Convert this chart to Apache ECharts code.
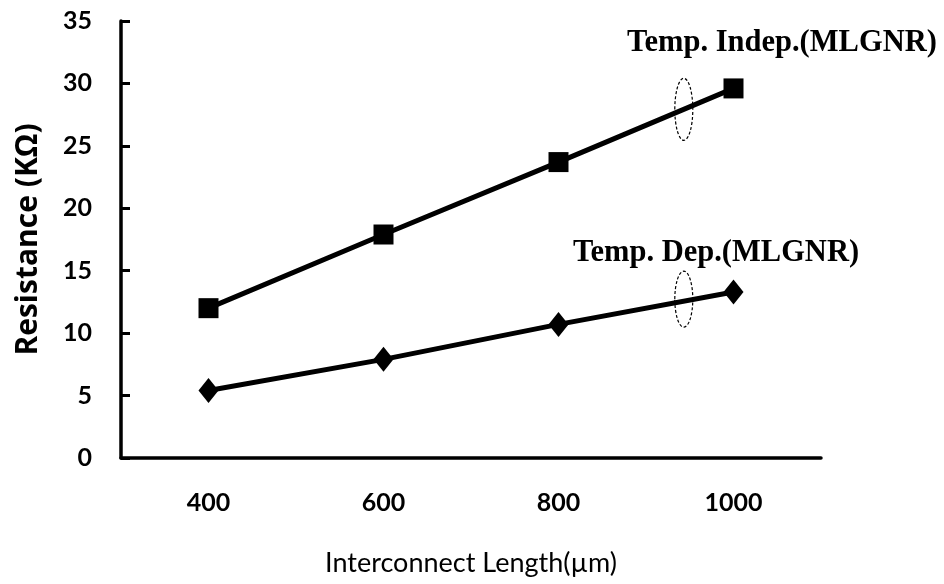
<!DOCTYPE html>
<html>
<head>
<meta charset="utf-8">
<script src="https://cdn.jsdelivr.net/npm/echarts@6/dist/echarts.min.js"></script>
<style>
  html, body { margin: 0; padding: 0; background: #fff; }
  #chart { width: 944px; height: 584px; }
</style>
</head>
<body>
<div id="chart"></div>
<script>
// Interconnect lengths (µm)
const lengths = ['400', '600', '800', '1000'];
// Resistance (KΩ), temperature-independent MLGNR model
const tempIndep = [12.0, 17.9, 23.7, 29.6];
// Resistance (KΩ), temperature-dependent MLGNR model
const tempDep = [5.4, 7.9, 10.7, 13.3];
// Series annotations and where their ellipse markers sit (fraction between 800 and 1000)
const seriesLabels = ['Temp. Indep.(MLGNR)', 'Temp. Dep.(MLGNR)'];
const ellipseAt = 0.716;

const chart = echarts.init(document.getElementById('chart'));

const tickFont = { fontFamily: 'Lato', fontWeight: 'bold', fontSize: 25, color: '#000' };

chart.setOption({
  animation: false,
  backgroundColor: '#fff',
  grid: { left: 121, right: 123, top: 21, bottom: 126 },
  xAxis: {
    type: 'category',
    data: lengths,
    boundaryGap: true,
    name: 'Interconnect Length(µm)',
    nameLocation: 'middle',
    nameGap: 92,
    nameTextStyle: { fontFamily: 'Lato', fontSize: 27, color: '#000' },
    axisLine: { lineStyle: { color: '#000', width: 3.5 } },
    axisTick: { inside: true, length: 9, lineStyle: { color: '#000', width: 3 } },
    axisLabel: Object.assign({ margin: 32 }, tickFont),
    splitLine: { show: false }
  },
  yAxis: {
    type: 'value',
    min: 0,
    max: 35,
    interval: 5,
    name: 'Resistance (KΩ)',
    nameLocation: 'middle',
    nameGap: 78,
    nameTextStyle: { fontFamily: 'Open Sans', fontWeight: 'bold', fontSize: 30, color: '#000' },
    axisLine: { show: true, lineStyle: { color: '#000', width: 3.5 } },
    axisTick: { show: true, inside: true, length: 9, lineStyle: { color: '#000', width: 3 } },
    axisLabel: Object.assign({ margin: 29 }, tickFont),
    splitLine: { show: false }
  },
  series: [
    {
      name: seriesLabels[0],
      type: 'line',
      data: tempIndep,
      symbol: 'rect',
      symbolSize: 20,
      lineStyle: { color: '#000', width: 5 },
      itemStyle: { color: '#000' }
    },
    {
      name: seriesLabels[1],
      type: 'line',
      data: tempDep,
      symbol: 'diamond',
      symbolSize: [20, 25],
      lineStyle: { color: '#000', width: 5 },
      itemStyle: { color: '#000' }
    }
  ]
});

// Place the dashed ellipses on each line and the series captions above them
function pointOnLine(values) {
  const a = chart.convertToPixel({ seriesIndex: 0 }, [2, values[2]]);
  const b = chart.convertToPixel({ seriesIndex: 0 }, [3, values[3]]);
  return [a[0] + (b[0] - a[0]) * ellipseAt, a[1] + (b[1] - a[1]) * ellipseAt];
}
const pIndep = pointOnLine(tempIndep);
const pDep = pointOnLine(tempDep);
const captionStyle = { fontFamily: 'Liberation Serif', fontWeight: 'bold', fontSize: 30.5, fill: '#000' };

chart.setOption({
  graphic: [
    {
      type: 'ellipse',
      shape: { cx: pIndep[0], cy: pIndep[1], rx: 9, ry: 31 },
      style: { fill: 'none', stroke: '#000', lineWidth: 1.2, lineDash: [3, 2] },
      z: 10
    },
    {
      type: 'ellipse',
      shape: { cx: pDep[0], cy: pDep[1] - 2, rx: 9, ry: 28 },
      style: { fill: 'none', stroke: '#000', lineWidth: 1.2, lineDash: [3, 2] },
      z: 10
    },
    {
      type: 'text',
      left: 627,
      top: 28,
      style: Object.assign({ text: seriesLabels[0] }, captionStyle),
      z: 10
    },
    {
      type: 'text',
      left: 573,
      top: 238,
      style: Object.assign({ text: seriesLabels[1] }, captionStyle),
      z: 10
    }
  ]
});
</script>
</body>
</html>
